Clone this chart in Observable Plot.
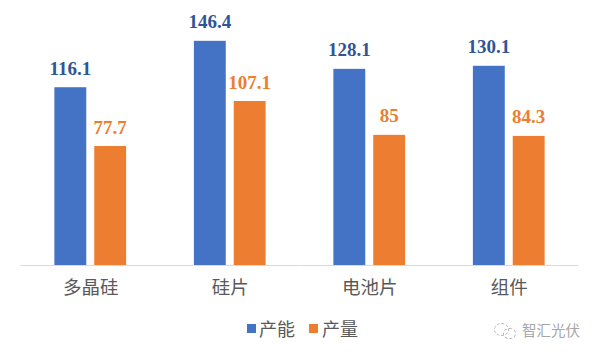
<!DOCTYPE html>
<html>
<head>
<meta charset="utf-8">
<script src="https://cdn.jsdelivr.net/npm/d3@7"></script>
<script src="https://cdn.jsdelivr.net/npm/@observablehq/plot@0.6"></script>
<style>
html,body{margin:0;padding:0;background:#fff;}
#wrap{position:relative;width:600px;height:357px;overflow:hidden;font-family:"Noto Sans CJK SC",sans-serif;}
#chart svg{display:block;}
.lg{position:absolute;top:317px;height:22px;line-height:22px;font-size:18px;color:#595959;white-space:nowrap;}
.sw{position:absolute;top:324px;width:9px;height:9px;}
#mark{position:absolute;left:522px;top:320px;height:20px;line-height:20px;font-size:14.5px;color:#a6a6a6;white-space:nowrap;}
.bub{position:absolute;border:1px dashed #b5b5b5;border-radius:50%;}
</style>
</head>
<body>
<div id="wrap">
  <div id="chart"></div>
  <span class="sw" style="left:247px;background:#4472c4"></span>
  <span class="lg" style="left:259px">产能</span>
  <span class="sw" style="left:309px;background:#ed7d31"></span>
  <span class="lg" style="left:322px">产量</span>
  <span class="bub" style="left:494px;top:323px;width:13px;height:11px"></span>
  <span class="bub" style="left:503px;top:328px;width:11px;height:9px"></span>
  <span id="mark">智汇光伏</span>
</div>
<script>
const categories = ["多晶硅", "硅片", "电池片", "组件"];
const seriesNames = ["产能", "产量"];
const capacity = [116.1, 146.4, 128.1, 130.1];
const output = [77.7, 107.1, 85, 84.3];
const colors = ["#4472c4", "#ed7d31"];
const labelColors = ["#2f5597", "#ed7d31"];

const rows = categories.flatMap((c, i) => [
  {category: c, series: seriesNames[0], value: capacity[i]},
  {category: c, series: seriesNames[1], value: output[i]}
]);

const plot = Plot.plot({
  width: 600,
  height: 312,
  marginTop: 20,
  marginBottom: 47,
  marginLeft: 20.5,
  marginRight: 21.5,
  style: {background: "#fff", overflow: "visible"},
  fx: {domain: categories, padding: 0, label: null, round: false},
  x: {domain: seriesNames, paddingInner: 0.2, paddingOuter: 0.85, axis: null, round: false},
  y: {domain: [0, 160], axis: null},
  color: {domain: seriesNames, range: colors},
  marks: [
    Plot.barY(rows, {fx: "category", x: "series", y: "value", fill: "series"}),
    Plot.ruleY([0], {stroke: "#d9d9d9", strokeWidth: 1}),
    Plot.text(rows, {
      fx: "category", x: "series", y: "value", text: "value",
      lineAnchor: "bottom", dy: -13, dx: -0.5,
      fill: d => labelColors[seriesNames.indexOf(d.series)],
      fontFamily: "Liberation Serif", fontWeight: "bold", fontSize: 19
    }),
    Plot.axisFx({
      anchor: "bottom", tickSize: 0, tickPadding: 15, label: null,
      fontFamily: "Noto Sans CJK SC", fontSize: 18.5, color: "#595959", fill: "#595959"
    })
  ]
});
document.getElementById("chart").appendChild(plot);
</script>
</body>
</html>
